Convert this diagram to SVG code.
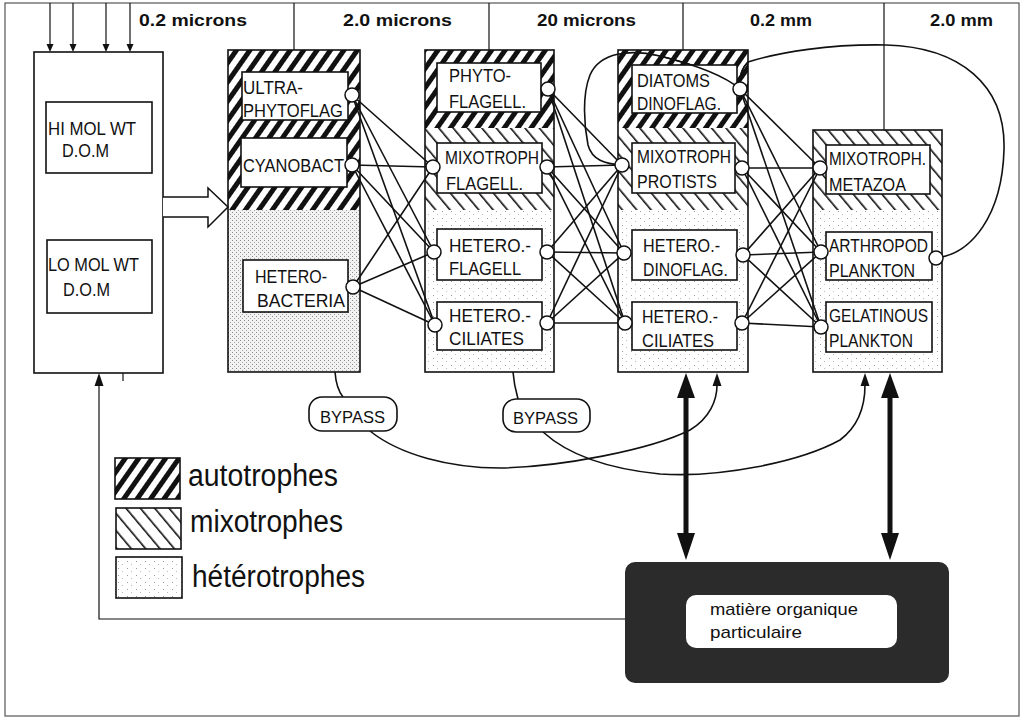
<svg xmlns="http://www.w3.org/2000/svg" width="1028" height="719" viewBox="0 0 1028 719">
<defs>
<style>
.lbl{font-family:"Liberation Sans",Arial,sans-serif;font-size:19px;fill:#111;}
.hdr{font-family:"Liberation Sans",Arial,sans-serif;font-size:17px;font-weight:bold;fill:#111;}
.leg{font-family:"Liberation Sans",Arial,sans-serif;font-size:31px;fill:#111;}
.bp{font-family:"Liberation Sans",Arial,sans-serif;font-size:16px;fill:#111;}
.mo{font-family:"Liberation Sans",Arial,sans-serif;font-size:17px;fill:#111;}
.box{fill:#fff;stroke:#111;stroke-width:1.6;}
.col{fill:none;stroke:#111;stroke-width:1.6;}
.port{fill:#fff;stroke:#111;stroke-width:1.5;}
.ln{stroke:#111;stroke-width:1.6;fill:none;}
.thin{stroke:#111;stroke-width:1.2;fill:none;}
.ah{fill:#111;stroke:none;}
</style>
<pattern id="auto" width="11" height="11" patternUnits="userSpaceOnUse" patternTransform="rotate(35)">
<rect width="11" height="11" fill="#fff"/><rect width="5" height="11" fill="#111"/>
</pattern>
<pattern id="mixo" width="11" height="11" patternUnits="userSpaceOnUse" patternTransform="rotate(-40)">
<rect width="11" height="11" fill="#fff"/><rect width="1.6" height="11" fill="#111"/>
</pattern>
<pattern id="dots" width="9" height="7" patternUnits="userSpaceOnUse">
<rect width="9" height="7" fill="#fff"/><rect x="1" y="1" width="1" height="1" fill="#999"/><rect x="5" y="4" width="1" height="1" fill="#bbb"/>
</pattern>
<pattern id="dense" width="4" height="4" patternUnits="userSpaceOnUse">
<rect width="4" height="4" fill="#f2f2f2"/><rect x="0" y="0" width="1" height="1" fill="#8a8a8a"/><rect x="2" y="2" width="1" height="1" fill="#a5a5a5"/>
</pattern>
</defs>
<rect x="0" y="0" width="1028" height="719" fill="#fff"/>
<!-- frame & header -->
<g id="frame">
<rect x="5" y="3" width="1014" height="713" fill="none" stroke="#555" stroke-width="1.2"/>
<line x1="294" y1="3" x2="294" y2="50" class="thin"/>
<line x1="489" y1="3" x2="489" y2="50" class="thin"/>
<line x1="683" y1="3" x2="683" y2="50" class="thin"/>
<line x1="884" y1="3" x2="884" y2="130" class="thin"/>
<text class="hdr" x="139" y="26" textLength="108" lengthAdjust="spacingAndGlyphs">0.2  microns</text>
<text class="hdr" x="343" y="26" textLength="109" lengthAdjust="spacingAndGlyphs">2.0  microns</text>
<text class="hdr" x="537" y="26" textLength="99" lengthAdjust="spacingAndGlyphs">20  microns</text>
<text class="hdr" x="750" y="26" textLength="62" lengthAdjust="spacingAndGlyphs">0.2  mm</text>
<text class="hdr" x="930" y="26" textLength="63" lengthAdjust="spacingAndGlyphs">2.0  mm</text>
</g>
<!-- column containers -->
<g id="col-dom">
<rect x="34" y="52" width="129" height="321" class="box"/>
</g>
<g id="col-2um">
<rect x="228" y="50" width="132" height="160" fill="url(#auto)"/>
<rect x="228" y="210" width="132" height="162" fill="url(#dense)"/>
<rect x="228" y="50" width="132" height="322" class="col"/>
</g>
<g id="col-20um">
<rect x="425" y="50" width="129" height="78" fill="url(#auto)"/>
<rect x="425" y="128" width="129" height="82" fill="url(#mixo)"/>
<rect x="425" y="210" width="129" height="162" fill="url(#dots)"/>
<rect x="425" y="50" width="129" height="322" class="col"/>
</g>
<g id="col-02mm">
<rect x="618" y="50" width="130" height="78" fill="url(#auto)"/>
<rect x="618" y="128" width="130" height="82" fill="url(#mixo)"/>
<rect x="618" y="210" width="130" height="162" fill="url(#dots)"/>
<rect x="618" y="50" width="130" height="322" class="col"/>
</g>
<g id="col-2mm">
<rect x="813" y="130" width="129" height="80" fill="url(#mixo)"/>
<rect x="813" y="210" width="129" height="162" fill="url(#dots)"/>
<rect x="813" y="130" width="129" height="242" class="col"/>
</g>
<!-- connectors -->
<g id="connectors">
<!-- top inputs -->
<line x1="50" y1="3" x2="50" y2="46" class="thin"/><polygon class="ah" points="50,52 46.5,44 53.5,44"/>
<line x1="73" y1="3" x2="73" y2="46" class="thin"/><polygon class="ah" points="73,52 69.5,44 76.5,44"/>
<line x1="106" y1="3" x2="106" y2="46" class="thin"/><polygon class="ah" points="106,52 102.5,44 109.5,44"/>
<line x1="130" y1="3" x2="130" y2="46" class="thin"/><polygon class="ah" points="130,52 126.5,44 133.5,44"/>
<!-- hollow arrow DOM -> bacteria column -->
<path d="M163 197 H208 V188 L228 207 L208 227 V217 H163" fill="#fff" stroke="#111" stroke-width="1.5"/>
<!-- col2 -> col3 -->
<line x1="352" y1="95" x2="433" y2="167" class="ln"/>
<line x1="352" y1="95" x2="434" y2="252" class="ln"/>
<line x1="352" y1="95" x2="435" y2="325" class="ln"/>
<line x1="352" y1="165" x2="433" y2="167" class="ln"/>
<line x1="352" y1="165" x2="434" y2="252" class="ln"/>
<line x1="352" y1="165" x2="435" y2="325" class="ln"/>
<line x1="353" y1="287" x2="433" y2="167" class="ln"/>
<line x1="353" y1="287" x2="434" y2="252" class="ln"/>
<line x1="353" y1="287" x2="435" y2="325" class="ln"/>
<!-- col3 -> col4 -->
<line x1="548" y1="89" x2="622" y2="165" class="ln"/>
<line x1="548" y1="89" x2="624" y2="253" class="ln"/>
<line x1="548" y1="89" x2="625" y2="323" class="ln"/>
<line x1="547" y1="167" x2="622" y2="165" class="ln"/>
<line x1="547" y1="167" x2="624" y2="253" class="ln"/>
<line x1="547" y1="167" x2="625" y2="323" class="ln"/>
<line x1="547" y1="252" x2="622" y2="165" class="ln"/>
<line x1="547" y1="252" x2="624" y2="253" class="ln"/>
<line x1="547" y1="252" x2="625" y2="323" class="ln"/>
<line x1="547" y1="323" x2="622" y2="165" class="ln"/>
<line x1="547" y1="323" x2="624" y2="253" class="ln"/>
<line x1="547" y1="323" x2="625" y2="323" class="ln"/>
<!-- col4 -> col5 -->
<line x1="740" y1="89" x2="820" y2="168" class="ln"/>
<line x1="740" y1="89" x2="821" y2="252" class="ln"/>
<line x1="740" y1="89" x2="821" y2="327" class="ln"/>
<line x1="742" y1="168" x2="820" y2="168" class="ln"/>
<line x1="742" y1="168" x2="821" y2="252" class="ln"/>
<line x1="742" y1="168" x2="821" y2="327" class="ln"/>
<line x1="743" y1="255" x2="820" y2="168" class="ln"/>
<line x1="743" y1="255" x2="821" y2="252" class="ln"/>
<line x1="743" y1="255" x2="821" y2="327" class="ln"/>
<line x1="742" y1="323" x2="820" y2="168" class="ln"/>
<line x1="742" y1="323" x2="821" y2="252" class="ln"/>
<line x1="742" y1="323" x2="821" y2="327" class="ln"/>
<!-- big loop from arthropod plankton -->
<path d="M936 258 C972 254 1002 215 1004 150 C1006 85 960 47 886 45 C830 44 780 52 748 62 C742 68 740 76 740 82" class="ln"/>
<path d="M740 89 C725 76 700 66 660 56 C630 49 600 52 590 75 C582 95 584 125 588 145 C592 160 605 164 622 165" class="ln"/>
<!-- bypass links -->
<path d="M335 372 C336 385 339 392 343 397" class="ln"/>
<path d="M370 431 C400 455 450 468 500 468 C560 467 650 450 690 430 C710 418 717 400 717 385" class="ln"/>
<polygon class="ah" points="717,373 712.5,386 721.5,386"/>
<path d="M513 372 C514 385 516 392 518 399" class="ln"/>
<path d="M543 432 C565 452 600 468 660 474 C720 478 800 462 840 440 C860 425 865 405 865 385" class="ln"/>
<polygon class="ah" points="865,373 860.5,386 869.5,386"/>
<!-- exchanges with particulate organic matter -->
<line x1="686" y1="392" x2="686" y2="540" stroke="#111" stroke-width="5"/>
<polygon class="ah" points="686,373 677,398 695,398"/>
<polygon class="ah" points="686,560 677,533 695,533"/>
<line x1="890" y1="392" x2="890" y2="540" stroke="#111" stroke-width="5"/>
<polygon class="ah" points="890,373 881,398 899,398"/>
<polygon class="ah" points="890,560 881,533 899,533"/>
<!-- return to DOM -->
<polyline points="625,619 99,619 99,385" class="thin"/>
<polygon class="ah" points="99,373 94.5,386 103.5,386"/>
<line x1="123" y1="373" x2="123" y2="381" class="thin"/>
</g>
<!-- nodes -->
<g id="node-himol">
<rect x="46" y="102" width="106" height="71" class="box"/>
<text class="lbl" x="48" y="135" textLength="88" lengthAdjust="spacingAndGlyphs">HI MOL WT</text>
<text class="lbl" x="62" y="157" textLength="47" lengthAdjust="spacingAndGlyphs">D.O.M</text>
</g>
<g id="node-lomol">
<rect x="47" y="240" width="105" height="73" class="box"/>
<text class="lbl" x="48" y="271" textLength="91" lengthAdjust="spacingAndGlyphs">LO MOL WT</text>
<text class="lbl" x="63" y="296" textLength="47" lengthAdjust="spacingAndGlyphs">D.O.M</text>
</g>
<g id="node-ultraphytoflag">
<rect x="242" y="72" width="106" height="48" class="box"/>
<text class="lbl" x="243" y="94" textLength="60" lengthAdjust="spacingAndGlyphs">ULTRA-</text>
<text class="lbl" x="243" y="117" textLength="100" lengthAdjust="spacingAndGlyphs">PHYTOFLAG</text>
<circle cx="352" cy="95" r="7" class="port"/>
</g>
<g id="node-cyanobact">
<rect x="241" y="138" width="106" height="49" class="box"/>
<text class="lbl" x="243" y="172" textLength="101" lengthAdjust="spacingAndGlyphs">CYANOBACT</text>
<circle cx="352" cy="165" r="7" class="port"/>
</g>
<g id="node-heterobacteria">
<rect x="243" y="260" width="105" height="52" class="box"/>
<text class="lbl" x="255" y="283" textLength="72" lengthAdjust="spacingAndGlyphs">HETERO-</text>
<text class="lbl" x="257" y="307" textLength="88" lengthAdjust="spacingAndGlyphs">BACTERIA</text>
<circle cx="353" cy="287" r="7" class="port"/>
</g>
<g id="node-phytoflagell">
<rect x="437" y="63" width="104" height="49" class="box"/>
<text class="lbl" x="449" y="82" textLength="62" lengthAdjust="spacingAndGlyphs">PHYTO-</text>
<text class="lbl" x="449" y="108" textLength="77" lengthAdjust="spacingAndGlyphs">FLAGELL.</text>
<circle cx="548" cy="89" r="7" class="port"/>
</g>
<g id="node-mixotrophflagell">
<rect x="437" y="143" width="105" height="50" class="box"/>
<text class="lbl" x="445" y="164" textLength="94" lengthAdjust="spacingAndGlyphs">MIXOTROPH</text>
<text class="lbl" x="446" y="190" textLength="77" lengthAdjust="spacingAndGlyphs">FLAGELL.</text>
<circle cx="433" cy="167" r="7" class="port"/>
<circle cx="547" cy="167" r="7" class="port"/>
</g>
<g id="node-heteroflagell">
<rect x="437" y="229" width="105" height="51" class="box"/>
<text class="lbl" x="449" y="252" textLength="82" lengthAdjust="spacingAndGlyphs">HETERO.-</text>
<text class="lbl" x="449" y="275" textLength="72" lengthAdjust="spacingAndGlyphs">FLAGELL</text>
<circle cx="434" cy="252" r="7" class="port"/>
<circle cx="547" cy="252" r="7" class="port"/>
</g>
<g id="node-heterociliates-20">
<rect x="437" y="302" width="105" height="48" class="box"/>
<text class="lbl" x="449" y="322" textLength="82" lengthAdjust="spacingAndGlyphs">HETERO.-</text>
<text class="lbl" x="449" y="345" textLength="75" lengthAdjust="spacingAndGlyphs">CILIATES</text>
<circle cx="435" cy="325" r="7" class="port"/>
<circle cx="547" cy="323" r="7" class="port"/>
</g>
<g id="node-diatoms">
<rect x="632" y="65" width="105" height="48" class="box"/>
<text class="lbl" x="637" y="87" textLength="73" lengthAdjust="spacingAndGlyphs">DIATOMS</text>
<text class="lbl" x="637" y="110" textLength="84" lengthAdjust="spacingAndGlyphs">DINOFLAG.</text>
<path d="M740 89 C725 76 700 66 660 56" class="ln"/>
<path d="M748 62 C742 68 740 76 740 82" class="ln"/>
<circle cx="740" cy="89" r="7" class="port"/>
</g>
<g id="node-mixotrophprotists">
<rect x="632" y="143" width="103" height="50" class="box"/>
<text class="lbl" x="637" y="163" textLength="94" lengthAdjust="spacingAndGlyphs">MIXOTROPH</text>
<text class="lbl" x="637" y="188" textLength="80" lengthAdjust="spacingAndGlyphs">PROTISTS</text>
<circle cx="622" cy="165" r="7" class="port"/>
<circle cx="742" cy="168" r="7" class="port"/>
</g>
<g id="node-heterodinoflag">
<rect x="632" y="230" width="105" height="50" class="box"/>
<text class="lbl" x="643" y="252" textLength="77" lengthAdjust="spacingAndGlyphs">HETERO.-</text>
<text class="lbl" x="643" y="276" textLength="85" lengthAdjust="spacingAndGlyphs">DINOFLAG.</text>
<circle cx="624" cy="253" r="7" class="port"/>
<circle cx="743" cy="255" r="7" class="port"/>
</g>
<g id="node-heterociliates-02">
<rect x="632" y="302" width="105" height="48" class="box"/>
<text class="lbl" x="642" y="323" textLength="76" lengthAdjust="spacingAndGlyphs">HETERO.-</text>
<text class="lbl" x="642" y="347" textLength="72" lengthAdjust="spacingAndGlyphs">CILIATES</text>
<circle cx="625" cy="323" r="7" class="port"/>
<circle cx="742" cy="323" r="7" class="port"/>
</g>
<g id="node-mixotrophmetazoa">
<rect x="826" y="145" width="104" height="49" class="box"/>
<text class="lbl" x="829" y="165" textLength="97" lengthAdjust="spacingAndGlyphs">MIXOTROPH.</text>
<text class="lbl" x="829" y="191" textLength="77" lengthAdjust="spacingAndGlyphs">METAZOA</text>
<circle cx="820" cy="168" r="7" class="port"/>
</g>
<g id="node-arthropod">
<rect x="826" y="232" width="106" height="48" class="box"/>
<text class="lbl" x="829" y="252" textLength="99" lengthAdjust="spacingAndGlyphs">ARTHROPOD</text>
<text class="lbl" x="829" y="277" textLength="86" lengthAdjust="spacingAndGlyphs">PLANKTON</text>
<circle cx="821" cy="252" r="7" class="port"/>
<circle cx="936" cy="258" r="7" class="port"/>
</g>
<g id="node-gelatinous">
<rect x="826" y="302" width="106" height="50" class="box"/>
<text class="lbl" x="829" y="322" textLength="99" lengthAdjust="spacingAndGlyphs">GELATINOUS</text>
<text class="lbl" x="829" y="347" textLength="84" lengthAdjust="spacingAndGlyphs">PLANKTON</text>
<circle cx="821" cy="327" r="7" class="port"/>
</g>
<g id="node-bypass1">
<rect x="309" y="397" width="88" height="34" rx="13" class="box"/>
<text class="bp" x="320" y="423" textLength="65" lengthAdjust="spacingAndGlyphs">BYPASS</text>
</g>
<g id="node-bypass2">
<rect x="503" y="399" width="87" height="33" rx="13" class="box"/>
<text class="bp" x="513" y="424" textLength="65" lengthAdjust="spacingAndGlyphs">BYPASS</text>
</g>
<g id="node-pom">
<rect x="625" y="562" width="324" height="121" rx="10" fill="#2b2b2b"/>
<rect x="686" y="595" width="211" height="53" rx="10" fill="#fff"/>
<text class="mo" x="710" y="615" textLength="148" lengthAdjust="spacingAndGlyphs">matière organique</text>
<text class="mo" x="710" y="638" textLength="92" lengthAdjust="spacingAndGlyphs">particulaire</text>
</g>
<!-- legend -->
<g id="legend">
<rect x="115" y="458" width="65" height="41" fill="url(#auto)" stroke="#111" stroke-width="1.6"/>
<text class="leg" x="188" y="486" textLength="150" lengthAdjust="spacingAndGlyphs">autotrophes</text>
<rect x="116" y="508" width="65" height="41" fill="url(#mixo)" stroke="#111" stroke-width="1.6"/>
<text class="leg" x="190" y="532" textLength="153" lengthAdjust="spacingAndGlyphs">mixotrophes</text>
<rect x="116" y="557" width="66" height="41" fill="url(#dots)" stroke="#111" stroke-width="1.6"/>
<text class="leg" x="192" y="587" textLength="173" lengthAdjust="spacingAndGlyphs">hétérotrophes</text>
</g>
</svg>
